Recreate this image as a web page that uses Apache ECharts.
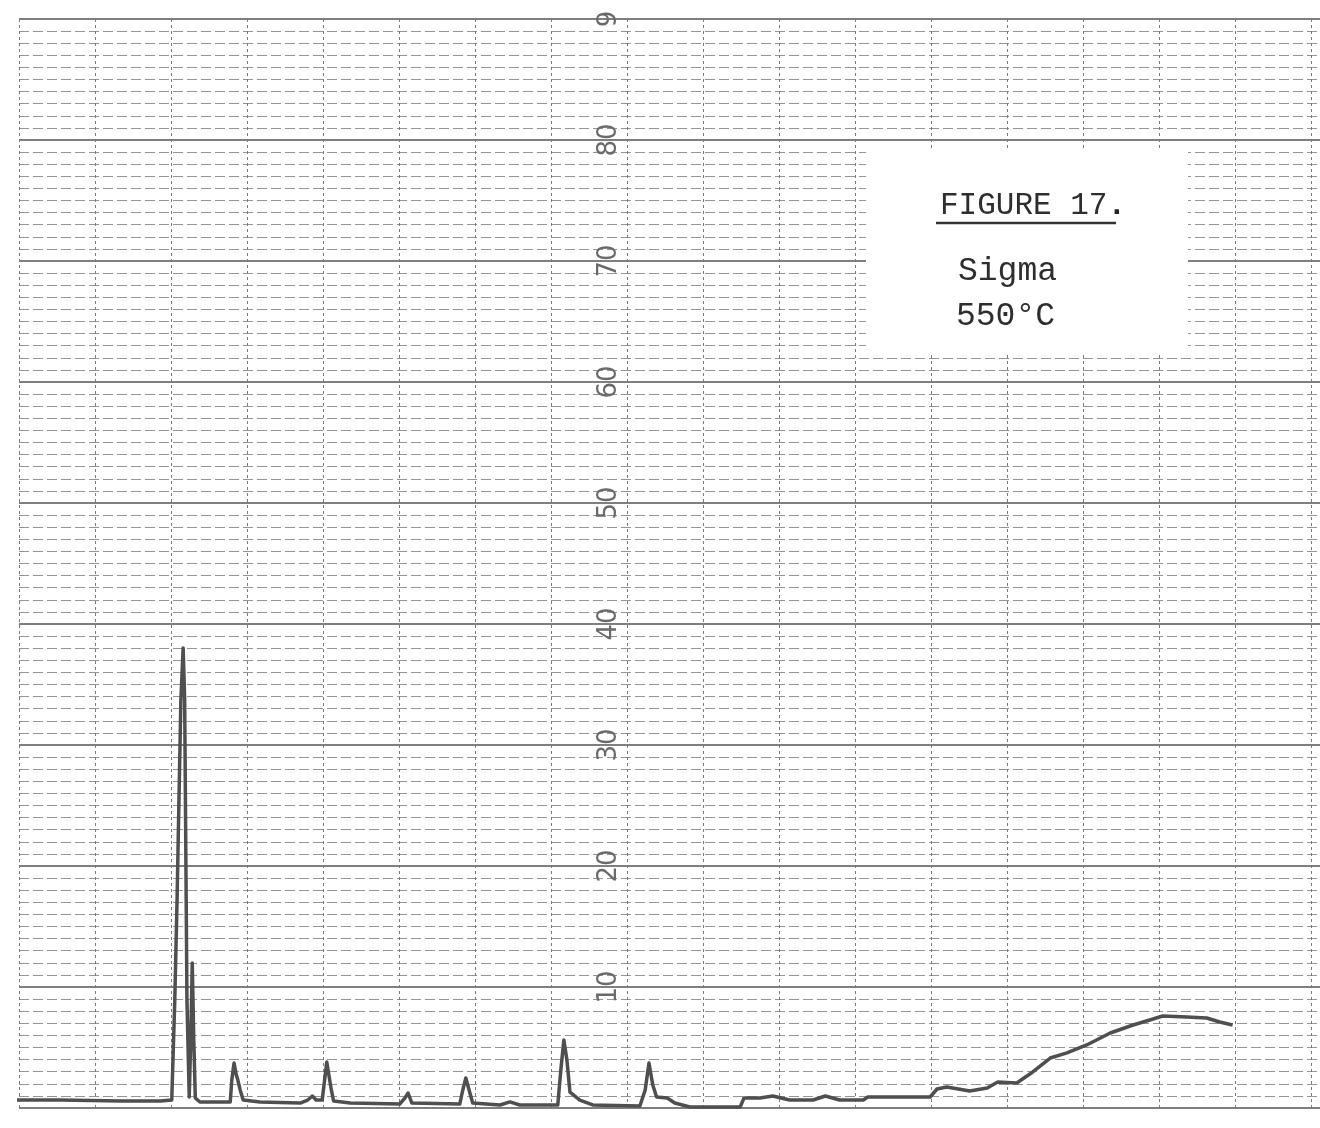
<!DOCTYPE html>
<html>
<head>
<meta charset="utf-8">
<title>Figure 17 - Sigma 550°C</title>
<script src="https://cdn.jsdelivr.net/npm/echarts@6/dist/echarts.min.js"></script>
<style>
  html, body { margin: 0; padding: 0; background: #fff; }
  #chart { width: 1320px; height: 1128px; }
</style>
</head>
<body>
<div id="chart"></div>
<script>
// pen trace
// x = vertical paper divisions from the left border, y = chart scale (0-90)
const traceX = [
  -0.18, 0.54, 1.33, 1.86, 2.01, 2.05, 2.08, 2.13, 2.16, 2.18, 2.20, 2.21, 2.24, 2.26, 2.28, 2.30, 2.32, 2.38,
  2.78, 2.80, 2.83, 2.86, 2.88, 2.91, 2.95, 3.17,
  3.70, 3.80, 3.86, 3.91, 3.99, 4.05, 4.11, 4.14, 4.36,
  5.01, 5.08, 5.12, 5.17, 5.80, 5.84, 5.88, 5.93, 5.97,
  6.33, 6.46, 6.59, 7.09, 7.13, 7.17, 7.21, 7.25, 7.38, 7.55,
  8.17, 8.24, 8.29, 8.34, 8.39, 8.53, 8.63, 8.83,
  9.49, 9.54, 9.75, 9.92, 10.14, 10.45, 10.61, 10.80, 11.11, 11.17,
  11.99, 12.08, 12.21, 12.51, 12.74, 12.88, 13.13, 13.34, 13.57, 13.79,
  14.05, 14.36, 14.66, 14.88, 15.05, 15.37, 15.63, 15.80, 15.97
]
const traceY = [
  0.66, 0.66, 0.58, 0.58, 0.66, 8.93, 17.19, 33.72, 38.02, 33.72, 17.19, 8.93, 0.91, 5.62, 11.98, 5.62, 0.83, 0.50,
  0.50, 2.31, 3.72, 2.73, 2.31, 1.49, 0.66, 0.50,
  0.41, 0.66, 0.99, 0.66, 0.66, 3.80, 1.49, 0.58, 0.41,
  0.33, 0.83, 1.24, 0.41, 0.33, 1.49, 2.48, 1.32, 0.41,
  0.25, 0.50, 0.25, 0.25, 3.14, 5.62, 3.97, 1.32, 0.66, 0.25,
  0.17, 1.49, 3.72, 1.90, 0.91, 0.83, 0.41, 0.08,
  0.08, 0.83, 0.83, 0.99, 0.66, 0.66, 0.99, 0.66, 0.66, 0.91,
  0.91, 1.57, 1.74, 1.40, 1.65, 2.15, 2.07, 2.98, 4.13, 4.55,
  5.21, 6.20, 6.86, 7.27, 7.60, 7.52, 7.44, 7.11, 6.86
]

const figureTitle = 'FIGURE 17'
const sampleName = 'Sigma'
const sampleTemp = '550°C'

const chart = echarts.init(document.getElementById('chart'))

const option = {
  backgroundColor: '#fff',
  animation: false,
  grid: [
    // the ruled paper
    { left: 19, right: 0, top: 19, bottom: 20 },
    // column that carries the printed scale numbers
    { left: 626, width: 1, top: 19, bottom: 20 }
  ],
  xAxis: [
    {
      gridIndex: 0,
      type: 'value',
      min: 0,
      max: 17.12,
      interval: 1,
      axisLine: { show: false },
      axisTick: { show: false },
      axisLabel: { show: false },
      splitLine: { show: true, lineStyle: { color: '#7a7a7a', width: 1, type: [3, 3] } }
    },
    { gridIndex: 1, type: 'value', min: 0, max: 1, show: false }
  ],
  yAxis: [
    {
      gridIndex: 0,
      type: 'value',
      min: 0,
      max: 90,
      interval: 10,
      axisLine: { show: false },
      axisTick: { show: false },
      axisLabel: { show: false },
      splitLine: { show: true, lineStyle: { color: '#555', width: 1.5 } },
      minorTick: { show: false, splitNumber: 10 },
      minorSplitLine: { show: true, lineStyle: { color: '#949494', width: 1, type: [10, 4] } }
    },
    {
      gridIndex: 1,
      type: 'value',
      min: 0,
      max: 90,
      interval: 10,
      axisLine: { show: false },
      axisTick: { show: false },
      splitLine: { show: false },
      axisLabel: {
        rotate: 90,
        margin: 4,
        fontSize: 26,
        fontFamily: 'DejaVu Sans',
        color: '#6a6a6a',
        // no 0 printed; the top of the sheet cuts the 90 down to its 9
        formatter: (v) => (v === 0 ? '' : v === 90 ? '9' : String(v))
      }
    }
  ],
  graphic: [
    // pasted-on caption label covers the ruling
    { type: 'rect', z: 100, shape: { x: 866, y: 148, width: 322, height: 207 }, style: { fill: '#fff' } },
    {
      type: 'text', z: 101, x: 940, y: 206,
      style: {
        text: figureTitle + '{dot|.}',
        font: '31px "Liberation Mono"',
        fill: '#2e2e2e',
        verticalAlign: 'middle',
        rich: { dot: { fontSize: 31, fontWeight: 'bold', fontFamily: 'Liberation Mono', fill: '#222' } }
      }
    },
    { type: 'line', z: 101, shape: { x1: 936, y1: 223, x2: 1116, y2: 223 }, style: { stroke: '#333', lineWidth: 2.5 } },
    {
      type: 'text', z: 101, x: 958, y: 271,
      style: { text: sampleName, font: '33px "Liberation Mono"', fill: '#2e2e2e', verticalAlign: 'middle' }
    },
    {
      type: 'text', z: 101, x: 956, y: 316,
      style: { text: sampleTemp, font: '33px "Liberation Mono"', fill: '#2e2e2e', verticalAlign: 'middle' }
    }
  ],
  series: [
    {
      name: 'trace',
      type: 'line',
      xAxisIndex: 0,
      yAxisIndex: 0,
      data: traceX.map((x, i) => [x, traceY[i]]),
      symbol: 'none',
      clip: false,
      z: 5,
      lineStyle: { color: '#4f4f4f', width: 3.5, join: 'round' }
    }
  ]
}

chart.setOption(option)
window.addEventListener('resize', () => chart.resize())
</script>
</body>
</html>
